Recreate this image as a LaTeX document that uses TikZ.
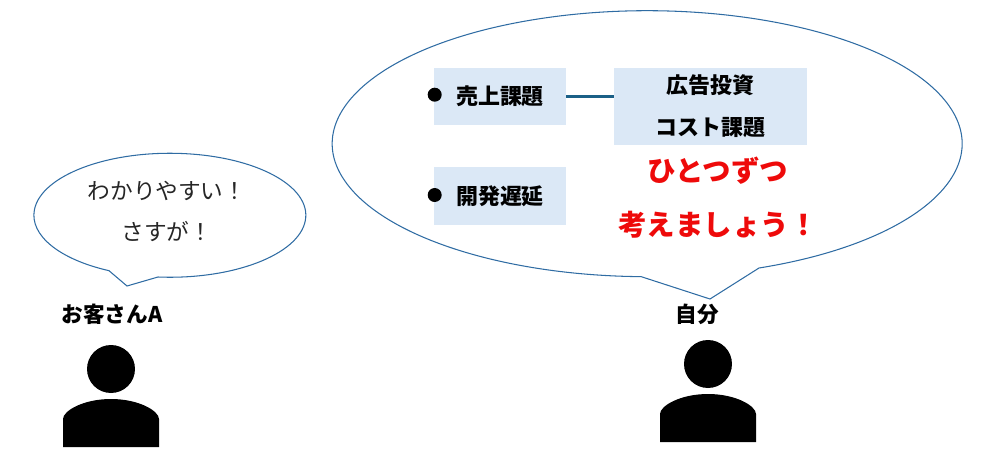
\documentclass[tikz,border=0pt]{standalone}
\usepackage{fontspec}
\setmainfont{Noto Sans CJK JP}
\definecolor{bubbleline}{HTML}{2F6CA3}
\definecolor{topicfill}{HTML}{DBE8F6}
\definecolor{linkblue}{HTML}{1B6087}
\definecolor{shoutred}{HTML}{EE0A0A}
\tikzstyle{bubble} = [draw=bubbleline, line width=0.6pt, line join=miter]
\tikzstyle{topic} = [fill=topicfill, inner sep=0pt, font=\bfseries\fontsize{12.5}{23.8}\selectfont, align=center]
\tikzstyle{dot} = [circle, fill=black, inner sep=0pt, minimum size=0.28cm]
\tikzstyle{who} = [inner sep=0pt, font=\bfseries\fontsize{12.3}{23.8}\selectfont]
\tikzstyle{say} = [inner sep=0pt, font=\fontsize{12.9}{23.8}\selectfont, align=center, text=black!85]
\tikzstyle{shout} = [inner sep=0pt, text=shoutred, font=\bfseries\fontsize{16.2}{30.6}\selectfont, align=center]
\tikzset{
	person/.pic={
			\fill (0,0) circle[radius=0.48cm];
			\fill (-48,78) -- (-48,50) .. controls (-48,42) and (-28,30) .. (0,30)
			.. controls (28,30) and (48,42) .. (48,50) -- (48,78) -- cycle;
		}
}

\begin{document}
\begin{tikzpicture}[x=0.02cm, y=-0.02cm]
  \useasboundingbox (0,0) rectangle (985,457);

  % Bubbles
  \draw[bubble] (158,277) arc[start angle=-95, end angle=243.4, x radius=2.72cm, y radius=1.24cm]
    -- (127,286) -- cycle;
  \draw[bubble] (759,268) arc[start angle=-69.2, end angle=268.9, x radius=6.3cm, y radius=2.66cm]
    -- (710,299) -- cycle;

  % Nodes
  \node[say] (wakari) at (167,211.5) {わかりやすい！\\さすが！};
  \node[who] (customer) at (112,314) {お客さんA};
  \node[who] (self) at (697,314) {自分};

  \node[topic, minimum width=2.64cm, minimum height=1.16cm] (sales) at (500,96.5) {売上課題};
  \node[topic, minimum width=2.64cm, minimum height=1.16cm] (delay) at (500,196) {開発遅延};
  \node[topic, minimum width=3.86cm, minimum height=1.54cm] (cost) at (710.5,106.5) {広告投資\\コスト課題};

  \node[dot] (salesdot) at (434.7,94.7) {};
  \node[dot] (delaydot) at (434.7,195) {};

  \node[shout] (hitotsu) at (718,197.5) {ひとつずつ\\考えましょう！};

  % Arrows
  \draw[linkblue, line width=2pt] (sales.east) -- (sales.east -| cost.west);

  % People
  \pic at (111,369) {person};
  \pic at (708,364) {person};
\end{tikzpicture}
\end{document}
